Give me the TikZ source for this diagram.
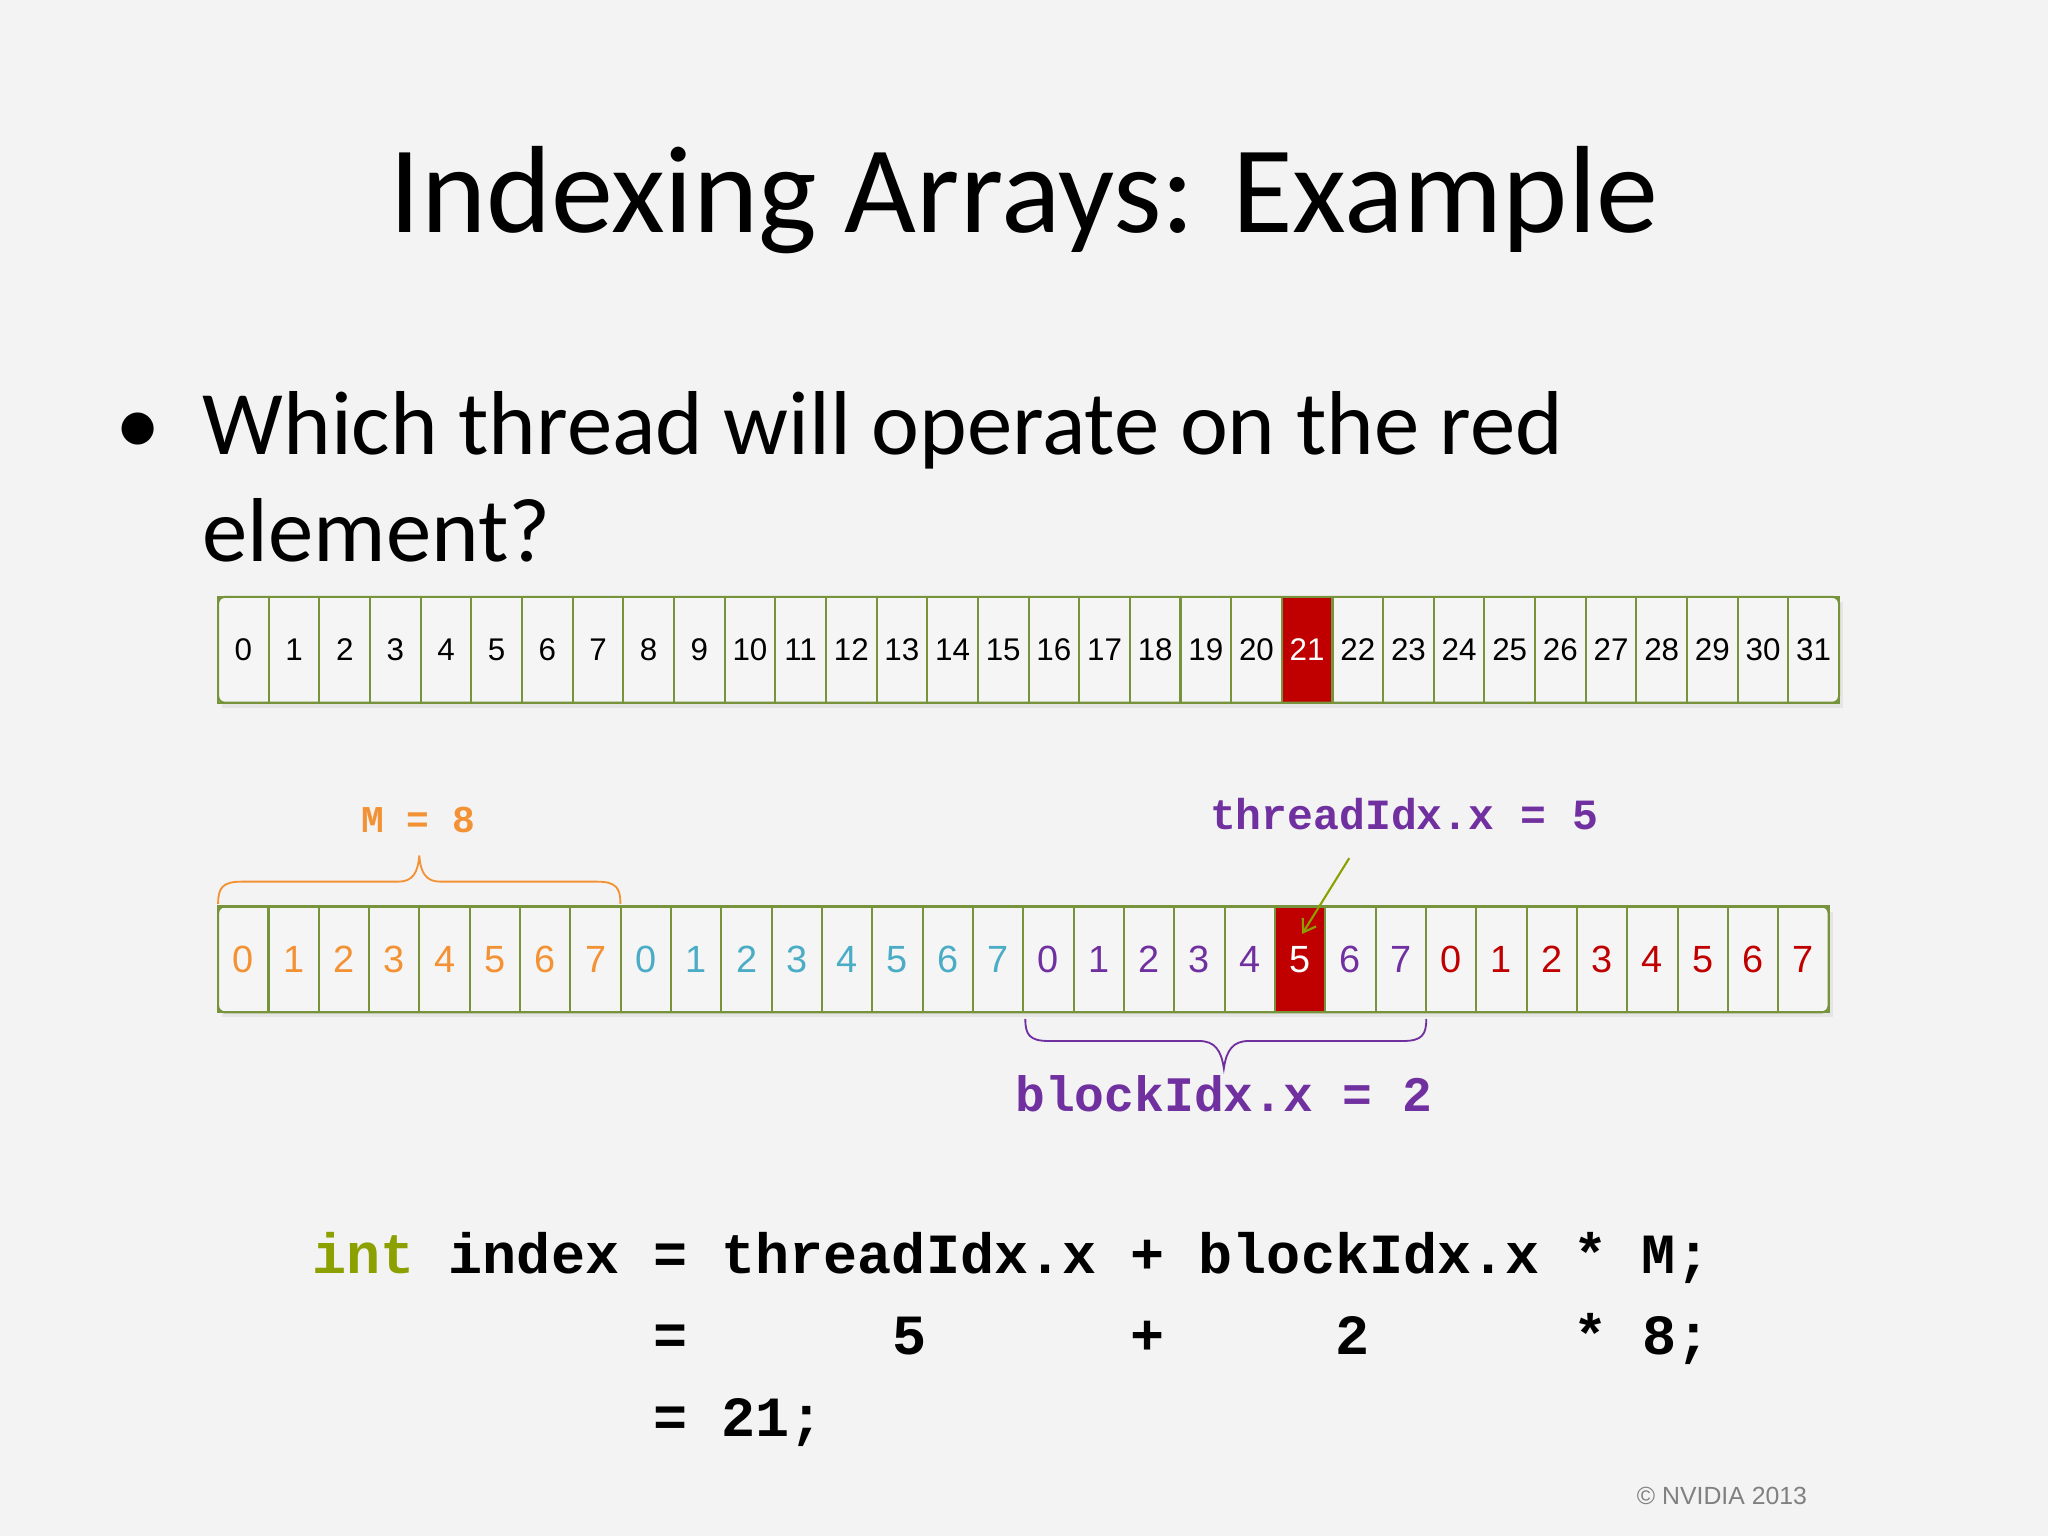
\documentclass[tikz,border=0pt]{standalone}
\usepackage{fontspec}
\setmainfont{Carlito}
\newfontfamily\codefont{Liberation Mono}
\newfontfamily\cellfont{Liberation Sans}
\usetikzlibrary{arrows.meta}
\definecolor{bgc}{HTML}{F3F3F3}
\definecolor{cellg}{HTML}{77933C}
\definecolor{cellf}{HTML}{F5F5F5}
\definecolor{orng}{HTML}{F39234}
\definecolor{teal}{HTML}{4BACC6}
\definecolor{purp}{HTML}{7030A0}
\definecolor{redc}{HTML}{C00000}
\definecolor{nvg}{HTML}{8CA000}
\tikzset{
 cellbox/.style={draw=cellg,line width=1.6pt,minimum height=81pt,inner sep=0pt,fill=cellf},
 code/.style={font=\codefont\bfseries\fontsize{43.5}{50}\selectfont,anchor=base west,inner sep=0pt},
}
\begin{document}
\begin{tikzpicture}[x=1pt,y=-1pt]
\fill[bgc] (0,0) rectangle (1568,1176);
\useasboundingbox (0,0) rectangle (1568,1176);
\node[anchor=base,font=\fontsize{95}{105}\selectfont] (title) at (784,178) {Indexing Arrays: Example};
\node[anchor=base,font=\fontsize{69.5}{80}\selectfont] (bul) at (106,348) {•};
\node[anchor=base west,inner sep=0pt,font=\fontsize{69.5}{80}\selectfont] (q1) at (155,348) {Which thread will operate on the red};
\node[anchor=base west,inner sep=0pt,font=\fontsize{69.5}{80}\selectfont] (q2) at (155,430) {element?};
% top array
\fill[black!10] (170,461) rectangle (1411,542);
\foreach \i in {0,...,31}{
  \pgfmathsetmacro\xx{167+38.78*\i+19.39}
  \ifnum\i=21
   \node[cellbox,fill=redc,minimum width=38.78pt,text=white,font=\cellfont\fontsize{24}{28}\selectfont] (a\i) at (\xx,497.5) {\i};
  \else
   \node[cellbox,minimum width=38.78pt,font=\cellfont\fontsize{24}{28}\selectfont] (a\i) at (\xx,497.5) {\i};
  \fi
}
\draw[cellg,line width=1.6pt,rounded corners=5pt] (167,457) rectangle (1408,538);
% bottom array
\fill[black!10] (170,698) rectangle (1403,779);
\foreach \i in {0,...,31}{
  \pgfmathtruncatemacro\v{mod(\i,8)}
  \pgfmathtruncatemacro\blk{div(\i,8)}
  \pgfmathsetmacro\xx{167+38.53*\i+19.27}
  \ifcase\blk \def\cc{orng}\or \def\cc{teal}\or \def\cc{purp}\or \def\cc{redc}\fi
  \ifnum\i=21
   \node[cellbox,fill=redc,minimum width=38.53pt,text=white,font=\cellfont\fontsize{29}{32}\selectfont] (b\i) at (\xx,734.5) {\v};
  \else
   \node[cellbox,minimum width=38.53pt,text=\cc,font=\cellfont\fontsize{29}{32}\selectfont] (b\i) at (\xx,734.5) {\v};
  \fi
}
\draw[cellg,line width=1.6pt,rounded corners=5pt] (167,694) rectangle (1400,775);
% orange brace
\draw[orng,line width=1.4pt] (167,692) .. controls (167,680) and (170,675) .. (185,675) -- (305,675) .. controls (316,675) and (320,668) .. (321,655)
  .. controls (322,668) and (326,675) .. (337,675) -- (457,675) .. controls (472,675) and (475,680) .. (475,692);
\node[anchor=base,font=\codefont\bfseries\fontsize{29}{32}\selectfont,text=orng] (mlab) at (320,637) {M = 8};
% purple brace
\draw[purp,line width=1.4pt] (785,780) .. controls (785,792) and (788,797) .. (803,797) -- (918,797) .. controls (930,797) and (935,804) .. (937,818)
  .. controls (939,804) and (944,797) .. (956,797) -- (1074,797) .. controls (1089,797) and (1092,792) .. (1092,780);
\node[anchor=base,font=\codefont\bfseries\fontsize{38}{42}\selectfont,text=purp] (blab) at (937,851) {blockIdx.x = 2};
\node[anchor=base,font=\codefont\bfseries\fontsize{33}{36}\selectfont,text=purp] (tlab) at (1075,635) {threadIdx.x = 5};
\coordinate (astart) at (1033,657);
\coordinate (aend) at (997,715);
\draw[nvg,line width=1.6pt,-{Straight Barb[length=9pt,width=12pt]}] (astart) -- (aend);
% code
\node[code] (c1) at (239,975) {\textcolor{nvg}{int} index = threadIdx.x + blockIdx.x * M;};
\node[code] (c2) at (239,1037) {\phantom{int index }=\phantom{ threa}5\phantom{dIdx.x}+\phantom{ bloc}2\phantom{Idx.x }* 8;};
\node[code] (c3) at (239,1100) {\phantom{int index }= 21;};
\node[anchor=base east,font=\cellfont\fontsize{19}{22}\selectfont,text=black!50] (copy) at (1387,1152) {© NVIDIA 2013};
\end{tikzpicture}
\end{document}
